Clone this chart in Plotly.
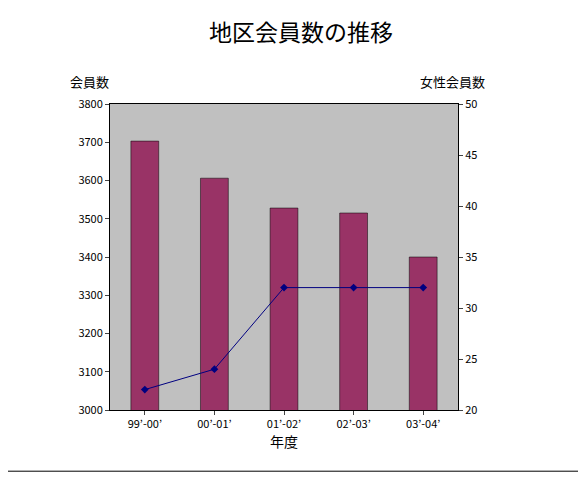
import plotly.graph_objects as go

years = ["99’-00’", "00’-01’", "01’-02’", "02’-03’", "03’-04’"]
members = [3703, 3606, 3528, 3515, 3400]
women = [22, 24, 32, 32, 32]

font = "Noto Sans CJK JP"

fig = go.Figure()
fig.add_trace(go.Bar(x=years, y=members, marker=dict(color="#993366", line=dict(color="#000000", width=0.5)),
                     yaxis="y"))
fig.add_trace(go.Scatter(x=years, y=women, mode="lines+markers", yaxis="y2",
                         line=dict(color="#000080", width=1),
                         marker=dict(symbol="diamond", size=6, color="#000080")))

fig.update_layout(
    width=586, height=477,
    margin=dict(l=102, r=136, t=96, b=75),
    paper_bgcolor="white", plot_bgcolor="#C0C0C0",
    showlegend=False, bargap=0.6,
    font=dict(family=font, size=12, color="black"),
    title=dict(text="地区会員数の推移", x=0.5, y=0.948, xanchor="center", yanchor="middle", font=dict(size=23)),
    xaxis=dict(title=dict(text="年度", standoff=4), showline=True, linecolor="black", ticks="outside",
               ticklen=4, tickfont=dict(size=11), mirror=True),
    yaxis=dict(range=[3000, 3800], dtick=100, showgrid=False, showline=True, linecolor="black",
               ticks="outside", ticklen=4, tickfont=dict(size=11), zeroline=False),
    yaxis2=dict(range=[20, 50], dtick=5, overlaying="y", side="right", showgrid=False, showline=True,
                linecolor="black", ticks="outside", ticklen=4, tickfont=dict(size=11), zeroline=False),
    annotations=[
        dict(text="会員数", xref="paper", yref="paper", x=-0.12, y=1.072, yanchor="middle",
             showarrow=False, font=dict(size=13)),
        dict(text="女性会員数", xref="paper", yref="paper", x=1.083, y=1.072, yanchor="middle",
             showarrow=False, font=dict(size=13)),
    ],
    shapes=[dict(type="rect", xref="paper", yref="paper", x0=-0.302, x1=1.351, y0=-0.2, y1=1.324,
                 line=dict(color="black", width=1))],
)

fig.write_html("out.html")
